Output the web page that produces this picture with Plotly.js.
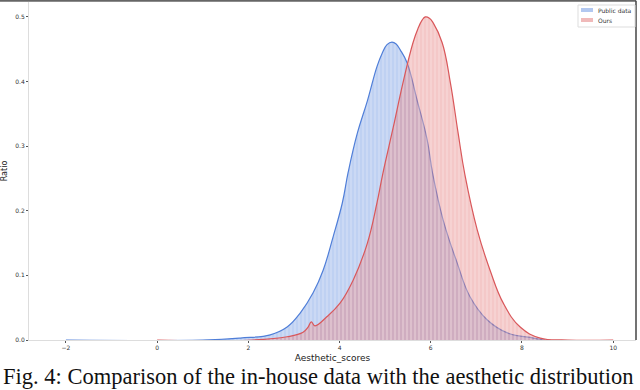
<!DOCTYPE html>
<html>
<head>
<meta charset="utf-8">
<script src="https://cdn.plot.ly/plotly-3.0.1.min.js"></script>
<style>
  html, body { margin: 0; padding: 0; background: #fff; }
  #chart { width: 640px; height: 390px; }
</style>
</head>
<body>
<div id="chart"></div>
<script>
// Density curves (score -> ratio)
const publicX = [-2, 1.0, 1.82, 2.48, 2.85, 3.14, 3.42, 3.64, 3.86, 4.06, 4.19, 4.39, 4.61, 4.82, 4.93, 5.04, 5.15, 5.24, 5.33, 5.48, 5.70, 5.92, 6.04, 6.27, 6.58, 6.86, 7.24, 7.68, 8.25, 8.5];
const publicY = [0, 0, 0.003, 0.008, 0.02, 0.042, 0.073, 0.108, 0.16, 0.212, 0.26, 0.32, 0.37, 0.423, 0.443, 0.457, 0.461, 0.458, 0.449, 0.429, 0.371, 0.31, 0.258, 0.186, 0.119, 0.067, 0.031, 0.011, 0.003, 0];

const oursX = [0, 2.1, 2.85, 3.2, 3.31, 3.38, 3.46, 3.72, 4.01, 4.30, 4.61, 4.82, 4.95, 5.18, 5.39, 5.61, 5.72, 5.81, 5.88, 5.97, 6.05, 6.25, 6.43, 6.60, 6.75, 7.02, 7.30, 7.59, 7.96, 8.4, 9.0, 10.0];
const oursY = [0, 0, 0.005, 0.012, 0.02, 0.028, 0.022, 0.036, 0.057, 0.093, 0.15, 0.212, 0.258, 0.33, 0.398, 0.46, 0.482, 0.495, 0.5, 0.498, 0.491, 0.46, 0.398, 0.32, 0.255, 0.17, 0.108, 0.057, 0.02, 0.003, 0, 0];

const seriesNames = ['Public data', 'Ours'];
const xTicks = [-2, 0, 2, 4, 6, 8, 10];
const yTicks = [0, 0.1, 0.2, 0.3, 0.4, 0.5];

const blueFill = 'rgba(120,158,228,0.48)';
const redFill = 'rgba(228,125,125,0.42)';

function areaTrace(x, y, name, lineColor, fill) {
    return {
        x: x,
        y: y,
        type: 'scatter',
        mode: 'lines',
        name: name,
        fill: 'tozeroy',
        fillcolor: fill,
        fillpattern: { shape: '|', bgcolor: fill, fgcolor: 'rgba(255,255,255,0.45)', size: 4, solidity: 0.2 },
        line: { color: lineColor, width: 1.2, shape: 'spline', smoothing: 1.2 },
        hoverinfo: 'x+y'
    };
}

const tracePublic = areaTrace(publicX, publicY, seriesNames[0], '#4f7ed8', blueFill);
const traceOurs = areaTrace(oursX, oursY, seriesNames[1], '#d9575a', redFill);

// pixel -> paper helpers for the hand-made legend (plot area 29..636 x 2..340)
const px = v => (v - 29) / 607;
const py = v => (340 - v) / 338;

const layout = {
    width: 640,
    height: 390,
    margin: { l: 29, r: 4, t: 2, b: 50 },
    paper_bgcolor: '#fff',
    plot_bgcolor: '#fff',
    font: { family: 'DejaVu Sans', size: 6, color: '#333' },
    showlegend: false,
    xaxis: {
        title: { text: 'Aesthetic_scores', font: { size: 9, color: '#222' }, standoff: 4 },
        range: [-2.81, 10.5],
        tickvals: xTicks,
        ticks: 'outside',
        ticklen: 2,
        tickcolor: '#555',
        showgrid: false,
        zeroline: false,
        showline: true,
        linecolor: '#ddd',
        linewidth: 1
    },
    yaxis: {
        title: { text: 'Ratio', font: { size: 8, color: '#222' }, standoff: 8 },
        range: [0, 0.523],
        tickvals: yTicks,
        tickformat: '.1f',
        ticks: 'outside',
        ticklen: 2,
        tickcolor: '#555',
        showgrid: false,
        zeroline: false,
        showline: true,
        linecolor: '#ddd',
        linewidth: 1
    },
    shapes: [
        // dark frame on the top and right sides
        { type: 'line', xref: 'paper', yref: 'paper', x0: -0.05, x1: 1, y0: 1.004, y1: 1.004, line: { color: '#666', width: 2 } },
        { type: 'line', xref: 'paper', yref: 'paper', x0: 1, x1: 1, y0: 0, y1: 1.004, line: { color: '#444', width: 1.5 } },
        // legend box and swatches
        { type: 'rect', xref: 'paper', yref: 'paper', x0: px(578), x1: px(635), y0: py(27), y1: py(5), fillcolor: 'rgba(255,255,255,0.9)', line: { color: '#ddd', width: 1 } },
        { type: 'rect', xref: 'paper', yref: 'paper', x0: px(581), x1: px(593), y0: py(12), y1: py(8), fillcolor: 'rgb(178,200,240)', line: { width: 0 } },
        { type: 'rect', xref: 'paper', yref: 'paper', x0: px(581), x1: px(593), y0: py(22), y1: py(18), fillcolor: 'rgb(240,186,186)', line: { width: 0 } }
    ],
    annotations: [
        { xref: 'paper', yref: 'paper', x: px(596), y: py(10), xanchor: 'left', yanchor: 'middle', text: seriesNames[0], showarrow: false, font: { size: 6, color: '#333' } },
        { xref: 'paper', yref: 'paper', x: px(596), y: py(20), xanchor: 'left', yanchor: 'middle', text: seriesNames[1], showarrow: false, font: { size: 6, color: '#333' } },
        {
            xref: 'paper', yref: 'paper',
            x: px(1), y: py(391),
            xanchor: 'left', yanchor: 'bottom',
            text: 'Fig. 4: Comparison of the in-house data with the aesthetic distribution',
            showarrow: false,
            font: { family: 'Liberation Serif', size: 22.5, color: '#111' }
        }
    ]
};

Plotly.newPlot('chart', [tracePublic, traceOurs], layout, { displayModeBar: false });
</script>
</body>
</html>
